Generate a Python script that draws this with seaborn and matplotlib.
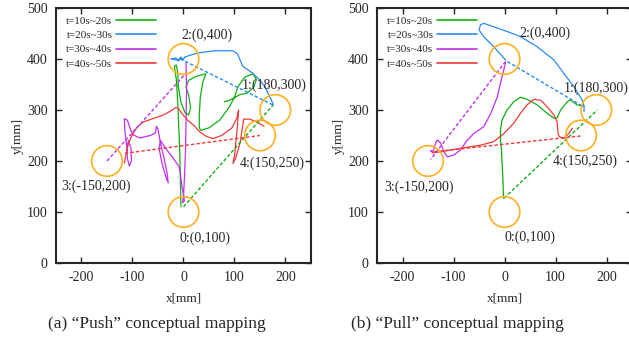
import seaborn as sns
import matplotlib.pyplot as plt
from matplotlib.patches import Circle

# targets
target_names = ["0:(0,100)", "1:(180,300)", "2:(0,400)", "3:(-150,200)", "4:(150,250)"]
target_x = [0, 180, 0, -150, 150]
target_y = [100, 300, 400, 200, 250]
target_r = 30

periods = ["t=10s~20s", "t=20s~30s", "t=30s~40s", "t=40s~50s"]

# (a) push - trajectories
push_green_x = [-5, -6, -7, -9, -11, -14, -18, -14, -11, -10, -5, 3, 10, 14, 10, 5, 10, 25, 44, 38, 33, 31, 31, 34,
                50, 71, 90, 100, 107, 120, 136, 143, 138, 125, 110, 100, 88, 80]
push_green_y = [110, 160, 210, 260, 310, 360, 386, 388, 372, 345, 315, 295, 290, 305, 330, 345, 358, 366, 371, 355,
                325, 290, 265, 260, 265, 280, 306, 325, 346, 364, 371, 360, 345, 333, 330, 324, 318, 316]
push_blue_x = [176, 172, 160, 150, 136, 116, 106, 97, 60, 30, 15, 3, -2, -5, -10, -15, -25, -12, 0]
push_blue_y = [311, 320, 345, 358, 372, 386, 410, 416, 416, 412, 408, 404, 397, 404, 396, 402, 400, 398, 401]
push_purple_x = [5, 6, 5, 4, 2, 0, -2, 2, -3, -8, -20, -35, -45, -48, -42, -35, -30, -32, -38, -45, -50, -53, -55,
                 -65, -86, -100, -105, -110, -116, -115, -112, -110, -106, -102, -103, -108, -112]
push_purple_y = [392, 340, 280, 220, 170, 130, 118, 122, 150, 188, 205, 225, 240, 225, 195, 170, 157, 175, 205, 235,
                 262, 268, 255, 250, 245, 252, 265, 280, 283, 260, 235, 205, 190, 200, 225, 240, 215]
push_red_x = [-116, -112, -108, -102, -92, -80, -60, -40, -25, -15, -10, -3, 8, 20, 32, 45, 58, 75, 95, 105, 108,
              106, 103, 100, 97, 102, 108, 112, 115, 118, 130, 145, 158]
push_red_y = [196, 215, 235, 248, 265, 276, 283, 290, 298, 305, 303, 293, 280, 270, 257, 248, 244, 250, 265, 285,
              300, 270, 240, 210, 195, 205, 225, 240, 262, 282, 282, 276, 268]

# (b) pull - trajectories
pull_green_x = [-2, -3, -5, -6, -8, -8, -5, 5, 18, 31, 44, 64, 84, 97, 103, 110, 123, 129, 142, 156]
pull_green_y = [127, 160, 200, 222, 241, 260, 280, 300, 316, 325, 321, 310, 293, 284, 284, 300, 316, 320, 310, 307]
pull_blue_x = [156, 156, 152, 136, 116, 97, 64, 31, 5, -21, -41, -47, -50, -41, -21, 2]
pull_blue_y = [297, 307, 320, 346, 372, 398, 424, 444, 454, 463, 470, 467, 457, 444, 424, 398]
pull_purple_x = [2, -5, -14, -27, -41, -60, -73, -86, -99, -112, -119, -125, -132, -135, -139, -142, -145, -140]
pull_purple_y = [392, 365, 326, 293, 267, 254, 241, 222, 212, 208, 218, 235, 241, 235, 222, 218, 220, 217]
pull_red_x = [-142, -125, -86, -47, -21, -1, 18, 31, 44, 58, 71, 84, 97, 103, 105, 107, 116, 126, 133]
pull_red_y = [216, 218, 225, 231, 238, 254, 274, 293, 310, 321, 319, 306, 290, 277, 254, 248, 244, 254, 264]

# ideal paths (start -> goal) per period
push_ideal = [((0, 176), (110, 310)), ((175, -4), (310, 399)), ((-150, 2), (200, 369)), ((-115, 150), (215, 250))]
pull_ideal = [((-1, 182), (127, 300)), ((152, 2), (308, 397)), ((2, -145), (395, 203)), ((-139, 149), (218, 249))]

colors = ["#10b010", "#2a8cf0", "#c030f0", "#f03a3a"]
circle_color = "#ffb020"

sns.set_style("ticks")
plt.rcParams['font.family'] = ['Liberation Serif', 'DejaVu Serif']
plt.rcParams['axes.unicode_minus'] = False


def draw_panel(ax, trajs, ideal, label_pos):
    for i, (tx, ty) in enumerate(trajs):
        sns.lineplot(x=tx, y=ty, sort=False, estimator=None, color=colors[i], lw=0.9, ax=ax, label=periods[i])
    for i, ((x0, x1), (y0, y1)) in enumerate(ideal):
        sns.lineplot(x=[x0, x1], y=[y0, y1], sort=False, estimator=None, color=colors[i], lw=1.0,
                     linestyle=(0, (2.5, 1.5)), ax=ax)
    for cx, cy, name, (lx, ly) in zip(target_x, target_y, target_names, label_pos):
        ax.add_patch(Circle((cx, cy), target_r, fill=False, ec=circle_color, lw=1.2, zorder=5))
        ax.text(lx, ly, name, fontsize=10, ha='left', va='center')
    ax.set_xlim(-250, 250)
    ax.set_ylim(0, 500)
    ax.set_xticks([-200, -100, 0, 100, 200])
    ax.set_yticks([0, 100, 200, 300, 400, 500])
    ax.tick_params(direction='in', top=True, right=True, labelsize=10, length=4, width=1, pad=6)
    for s in ax.spines.values():
        s.set_linewidth(1.5)
    ax.set_xlabel("x[mm]", fontsize=9.5, labelpad=6)
    ax.set_ylabel("y[mm]", fontsize=9.5, labelpad=2)
    leg = ax.legend(loc='upper left', markerfirst=False, frameon=False, fontsize=8, handlelength=3.6,
                    handletextpad=0.3, labelspacing=0.42, borderaxespad=0.3, bbox_to_anchor=(0.01, 1.0))
    for line in leg.get_lines():
        line.set_linewidth(1.2)


fig = plt.figure(figsize=(6.29, 3.48), dpi=100)
ax1 = fig.add_axes([0.089, 0.2443, 0.4054, 0.7328])
ax2 = fig.add_axes([0.5994, 0.2443, 0.4054, 0.7328])

push_labels = [(-8, 49), (115, 348), (-5, 447), (-239, 150), (110, 196)]
pull_labels = [(-1, 50), (116, 342), (29, 450), (-235, 148), (95, 199)]

draw_panel(ax1, [(push_green_x, push_green_y), (push_blue_x, push_blue_y), (push_purple_x, push_purple_y),
                 (push_red_x, push_red_y)], push_ideal, push_labels)
draw_panel(ax2, [(pull_green_x, pull_green_y), (pull_blue_x, pull_blue_y), (pull_purple_x, pull_purple_y),
                 (pull_red_x, pull_red_y)], pull_ideal, pull_labels)

fig.text(0.25, 0.07, "(a) \u201cPush\u201d conceptual mapping", ha='center', va='center', fontsize=12.5)
fig.text(0.728, 0.07, "(b) \u201cPull\u201d conceptual mapping", ha='center', va='center', fontsize=12.5)

fig.savefig("out.png", dpi=100)
